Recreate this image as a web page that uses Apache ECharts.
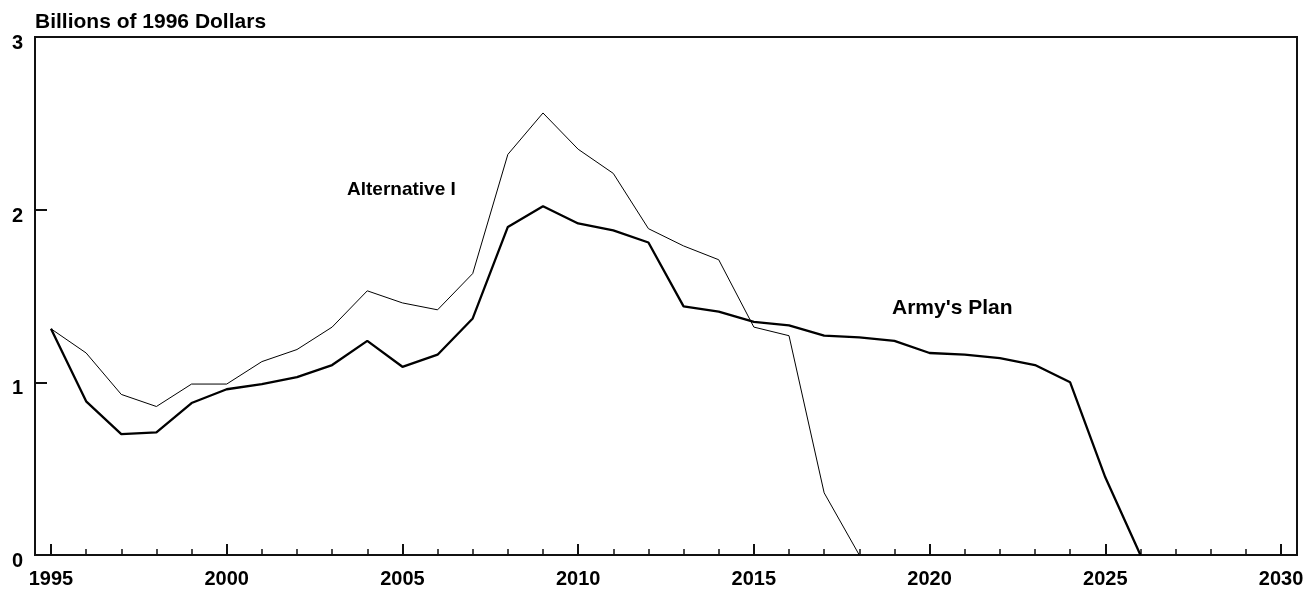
<!DOCTYPE html>
<html lang="en">
<head>
    <meta charset="UTF-8">
    <title>Army's Plan vs Alternative I</title>
    <script src="https://cdn.jsdelivr.net/npm/echarts@6/dist/echarts.min.js"></script>
    <style>
        html, body {margin: 0; padding: 0; background: #fff;}
        #main {width: 1307px; height: 591px;}
    </style>
</head>
<body>
<div id="main"></div>
<script type="text/javascript">
    // billions of 1996 dollars, one value per year from 1995
    var firstYear = 1995;
    var armyPlan = [1.31, 0.89, 0.70, 0.71, 0.88, 0.96, 0.99, 1.03, 1.10, 1.24,
        1.09, 1.16, 1.37, 1.90, 2.02, 1.92, 1.88, 1.81, 1.44, 1.41,
        1.35, 1.33, 1.27, 1.26, 1.24, 1.17, 1.16, 1.14, 1.10, 1.00,
        0.45, 0];
    var alternative1 = [1.31, 1.17, 0.93, 0.86, 0.99, 0.99, 1.12, 1.19, 1.32, 1.53,
        1.46, 1.42, 1.63, 2.32, 2.56, 2.35, 2.21, 1.89, 1.79, 1.71,
        1.32, 1.27, 0.36, 0];
    var majorYears = [1995, 2000, 2005, 2010, 2015, 2020, 2025, 2030];
    var allYears = [];
    for (var y = 1995; y <= 2030; y++) allYears.push(y);

    function toPoints(vals) {
        return vals.map(function (v, i) { return [firstYear + i, v]; });
    }

    var font = "'Liberation Sans', Arial, sans-serif";
    var myChart = echarts.init(document.getElementById('main'), null, {renderer: 'canvas'});

    var option = {
        animation: false,
        backgroundColor: '#fff',
        grid: {
            left: 35, right: 10, top: 37, bottom: 36,
            show: true, borderColor: '#111', borderWidth: 2, backgroundColor: 'transparent'
        },
        xAxis: [
            {
                type: 'value', min: 1994.545, max: 2030.455,
                splitLine: {show: false},
                axisLine: {show: false},
                axisTick: {inside: true, length: 11, customValues: majorYears,
                    lineStyle: {color: '#111', width: 2}},
                axisLabel: {customValues: majorYears, margin: 14, color: '#000',
                    fontSize: 20, fontWeight: 'bold', fontFamily: font,
                    formatter: function (v) { return String(v); }}
            },
            {
                type: 'value', min: 1994.545, max: 2030.455, position: 'bottom',
                splitLine: {show: false},
                axisLine: {show: false},
                axisTick: {inside: true, length: 6, customValues: allYears,
                    lineStyle: {color: '#111', width: 1.5}},
                axisLabel: {show: false}
            }
        ],
        yAxis: {
            type: 'value', min: 0, max: 3, interval: 1,
            splitLine: {show: false},
            axisLine: {show: false},
            axisTick: {inside: true, length: 12, lineStyle: {color: '#111', width: 2}},
            axisLabel: {
                margin: 12,
                formatter: function (v) { return '{n|' + v + '}'; },
                rich: {n: {color: '#000', fontSize: 20, fontWeight: 'bold',
                    fontFamily: font, padding: [13, 0, 0, 0]}}
            }
        },
        series: [
            {
                name: "Army's Plan", type: 'line', xAxisIndex: 0,
                data: toPoints(armyPlan), showSymbol: false,
                lineStyle: {color: '#000', width: 2.3}
            },
            {
                name: 'Alternative I', type: 'line', xAxisIndex: 0,
                data: toPoints(alternative1), showSymbol: false,
                lineStyle: {color: '#000', width: 1}
            }
        ],
        graphic: [
            {type: 'text', x: 35, y: 22, style: {text: 'Billions of 1996 Dollars', fill: '#000',
                font: 'bold 21px ' + font, verticalAlign: 'middle'}},
            {type: 'text', x: 347, y: 190, style: {text: 'Alternative I', fill: '#000',
                font: 'bold 19px ' + font, verticalAlign: 'middle'}},
            {type: 'text', x: 892, y: 308, style: {text: "Army's Plan", fill: '#000',
                font: 'bold 21px ' + font, verticalAlign: 'middle'}}
        ]
    };

    myChart.setOption(option);
</script>
</body>
</html>
